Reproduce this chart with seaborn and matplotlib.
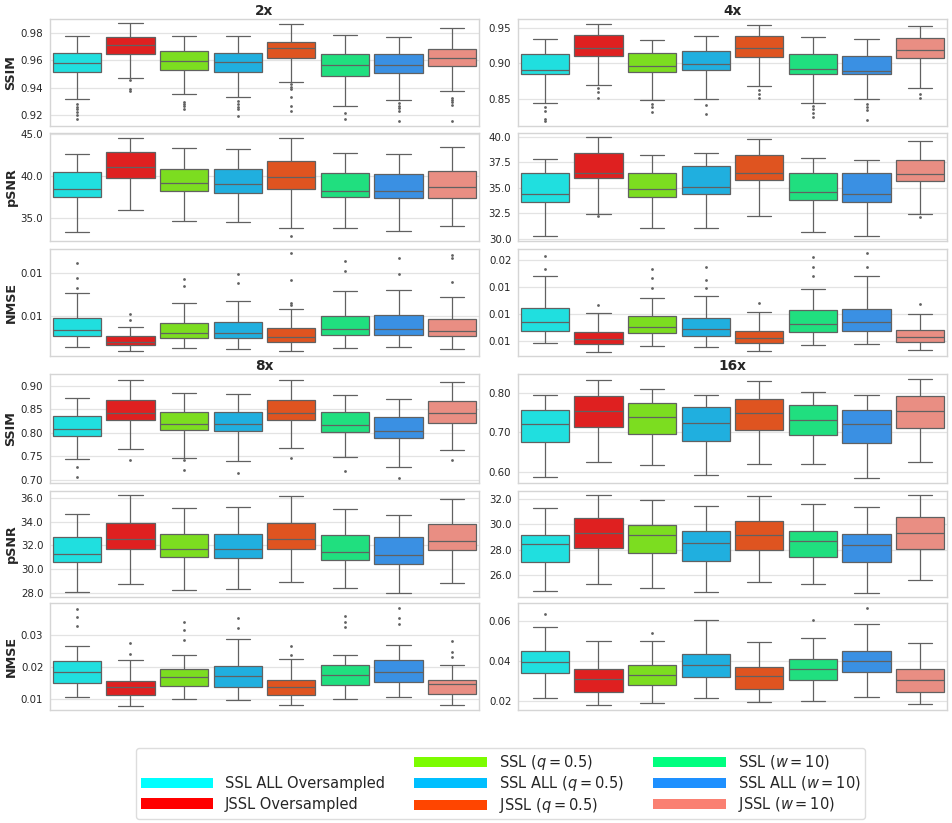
import numpy as np
import pandas as pd
import matplotlib
matplotlib.use("Agg")
import matplotlib.pyplot as plt
from matplotlib.patches import Patch, Rectangle
from matplotlib.legend_handler import HandlerPatch
from matplotlib.ticker import FormatStrFormatter
import seaborn as sns

# ---------------- data ----------------
methods = ["SSL ALL Oversampled", "JSSL Oversampled",
           r"SSL ($q = 0.5$)", r"SSL ALL ($q = 0.5$)", r"JSSL ($q = 0.5$)",
           r"SSL ($w = 10$)", r"SSL ALL ($w = 10$)", r"JSSL ($w = 10$)"]
colors = ["cyan", "red", "lawngreen", "deepskyblue", "orangered",
          "springgreen", "dodgerblue", "salmon"]
factors = ["2x", "4x", "8x", "16x"]
metrics = ["SSIM", "pSNR", "NMSE"]

# five-number summaries per method: (whisker low, Q1, median, Q3, whisker high)
ssim_2x = [(0.9320, 0.9515, 0.9578, 0.9654, 0.9776), (0.9473, 0.9649, 0.9710, 0.9768, 0.9871),
           (0.9351, 0.9527, 0.9595, 0.9666, 0.9776), (0.9329, 0.9515, 0.9585, 0.9654, 0.9776),
           (0.9439, 0.9615, 0.9688, 0.9737, 0.9868), (0.9266, 0.9485, 0.9568, 0.9646, 0.9788),
           (0.9307, 0.9505, 0.9563, 0.9644, 0.9773), (0.9377, 0.9561, 0.9615, 0.9685, 0.9839)]
ssim_2x_out = [[0.9278, 0.9261, 0.9242, 0.9220, 0.9200, 0.9171], [0.9456, 0.9388, 0.9376],
               [0.9298, 0.9281, 0.9266, 0.9246], [0.9300, 0.9281, 0.9261, 0.9242, 0.9195],
               [0.9427, 0.9402, 0.9388, 0.9334, 0.9268, 0.9232], [0.9217, 0.9168],
               [0.9285, 0.9268, 0.9251, 0.9232, 0.9159], [0.9327, 0.9310, 0.9295, 0.9271, 0.9154]]

psnr_2x = [(33.28, 37.44, 38.40, 40.48, 42.68), (35.96, 39.80, 41.04, 42.92, 44.52),
           (34.56, 38.16, 39.12, 40.88, 43.32), (34.48, 38.00, 39.00, 40.84, 43.20),
           (33.72, 38.44, 39.84, 41.80, 44.52), (33.72, 37.44, 38.24, 40.40, 42.80),
           (33.36, 37.32, 38.24, 40.28, 42.60), (33.96, 37.32, 38.72, 40.64, 43.52)]
psnr_2x_out = [[], [], [], [], [32.76], [], [], []]

nmse_2x = [(0.004642, 0.004769, 0.004838, 0.004981, 0.005262),
           (0.004596, 0.004662, 0.004704, 0.004773, 0.004877),
           (0.004627, 0.004742, 0.004800, 0.004923, 0.005150),
           (0.004619, 0.004746, 0.004804, 0.004931, 0.005177),
           (0.004592, 0.004700, 0.004762, 0.004858, 0.005085),
           (0.004635, 0.004777, 0.004846, 0.004996, 0.005292),
           (0.004642, 0.004781, 0.004854, 0.005008, 0.005296),
           (0.004619, 0.004769, 0.004823, 0.004965, 0.005219)]
nmse_2x_out = [[0.005320, 0.005435, 0.005615], [0.004950, 0.005023], [0.005350, 0.005431],
               [0.005385, 0.005485], [0.005123, 0.005154, 0.005412, 0.005723],
               [0.005523, 0.005638], [0.005481, 0.005665], [0.005396, 0.005665, 0.005700]]

ssim_4x = [(0.8434, 0.8844, 0.8910, 0.9132, 0.9344), (0.8698, 0.9104, 0.9222, 0.9401, 0.9561),
           (0.8486, 0.8873, 0.8967, 0.9146, 0.9330), (0.8490, 0.8901, 0.8991, 0.9179, 0.9396),
           (0.8675, 0.9094, 0.9222, 0.9387, 0.9547), (0.8443, 0.8854, 0.8925, 0.9137, 0.9373),
           (0.8500, 0.8844, 0.8896, 0.9109, 0.9344), (0.8646, 0.9071, 0.9193, 0.9363, 0.9533)]
ssim_4x_out = [[0.8382, 0.8321, 0.8212, 0.8179], [0.8646, 0.8590, 0.8509],
               [0.8429, 0.8373, 0.8311], [0.8401, 0.8274], [0.8627, 0.8571, 0.8505],
               [0.8392, 0.8344, 0.8288, 0.8241], [0.8420, 0.8382, 0.8335, 0.8193],
               [0.8566, 0.8509]]

psnr_4x = [(30.26, 33.66, 34.42, 36.47, 37.79), (32.44, 36.01, 36.50, 38.42, 40.00),
           (31.12, 34.13, 34.92, 36.47, 38.18), (31.06, 34.39, 35.08, 37.10, 38.38),
           (32.21, 35.78, 36.50, 38.25, 39.83), (30.69, 33.83, 34.62, 36.50, 37.95),
           (30.33, 33.66, 34.42, 36.44, 37.69), (32.47, 35.64, 36.40, 37.76, 39.57)]
psnr_4x_out = [[], [32.21], [], [], [], [], [], [32.18]]

nmse_4x = [(0.00980, 0.010725, 0.01135, 0.012425, 0.014825),
           (0.009175, 0.00975, 0.0101, 0.010675, 0.01204),
           (0.009625, 0.01055, 0.0110, 0.0118, 0.01315),
           (0.0095, 0.010375, 0.010875, 0.011675, 0.013325),
           (0.0092, 0.0098, 0.010175, 0.01075, 0.0121),
           (0.009675, 0.010625, 0.011225, 0.01225, 0.013825),
           (0.00975, 0.010725, 0.01135, 0.012375, 0.01483),
           (0.009275, 0.009875, 0.01025, 0.0108, 0.011975)]
nmse_4x_out = [[0.0153, 0.0163], [0.012675], [0.013925, 0.014675, 0.0153],
               [0.013925, 0.01455, 0.015475], [0.012775], [0.01485, 0.0155, 0.01625],
               [0.0155, 0.01655], [0.01275]]

ssim_8x = [(0.7438, 0.7940, 0.8074, 0.8350, 0.8731), (0.7664, 0.8272, 0.8421, 0.8703, 0.9127),
           (0.7465, 0.8053, 0.8180, 0.8449, 0.8852), (0.7410, 0.8032, 0.8180, 0.8449, 0.8823),
           (0.7671, 0.8265, 0.8421, 0.8689, 0.9113), (0.7481, 0.8011, 0.8159, 0.8435, 0.8795),
           (0.7276, 0.7898, 0.8046, 0.8329, 0.8710), (0.7629, 0.8201, 0.8413, 0.8682, 0.9071)]
ssim_8x_out = [[0.7269, 0.7057], [0.7424], [0.7424, 0.7212], [0.7141], [0.7466], [0.7191],
               [0.7050], [0.7431]]

psnr_8x = [(28.06, 30.59, 31.30, 32.73, 34.68), (28.70, 31.72, 32.56, 33.92, 36.28),
           (28.20, 31.01, 31.72, 32.93, 35.18), (28.28, 30.93, 31.72, 32.93, 35.24),
           (28.87, 31.66, 32.54, 33.86, 36.14), (28.39, 30.79, 31.41, 32.85, 35.04),
           (28.00, 30.45, 31.15, 32.68, 34.56), (28.85, 31.58, 32.37, 33.83, 35.89)]
psnr_8x_out = [[], [], [], [], [], [], [], []]

nmse_8x = [(0.01082, 0.01515, 0.01856, 0.02186, 0.0266),
           (0.00804, 0.01134, 0.01392, 0.01567, 0.02206),
           (0.0100, 0.01423, 0.0168, 0.01948, 0.02371),
           (0.00979, 0.01392, 0.01711, 0.02021, 0.02876),
           (0.00825, 0.01134, 0.01392, 0.0159, 0.0225),
           (0.0100, 0.01433, 0.01742, 0.02052, 0.02371),
           (0.01082, 0.01536, 0.01856, 0.02206, 0.02691),
           (0.00814, 0.01165, 0.01464, 0.01598, 0.02052)]
nmse_8x_out = [[0.03268, 0.03546, 0.03804], [0.02392, 0.02732], [0.02835, 0.03155, 0.03381],
               [0.03216, 0.03515], [0.02361, 0.0265], [0.03227, 0.03402, 0.03588],
               [0.0332, 0.03515, 0.03835], [0.02299, 0.02454, 0.02814]]

ssim_16x = [(0.5864, 0.6749, 0.7209, 0.7583, 0.7949), (0.6238, 0.7140, 0.7557, 0.7940, 0.8340),
            (0.6162, 0.6970, 0.7404, 0.7753, 0.8111), (0.5915, 0.6774, 0.7243, 0.7643, 0.7949),
            (0.6204, 0.7064, 0.7498, 0.7864, 0.8315), (0.6196, 0.6945, 0.7311, 0.7711, 0.8034),
            (0.5847, 0.6732, 0.7209, 0.7583, 0.7949), (0.6255, 0.7106, 0.7557, 0.7923, 0.8357)]
ssim_16x_out = [[], [], [], [], [], [], [], []]

psnr_16x = [(24.74, 27.07, 28.44, 29.14, 31.32), (25.29, 28.17, 29.35, 30.48, 32.29),
            (25.00, 27.78, 29.14, 29.93, 31.90), (24.66, 27.15, 28.51, 29.51, 31.48),
            (25.45, 27.99, 29.14, 30.30, 32.21), (25.34, 27.47, 28.72, 29.51, 31.63),
            (24.63, 27.02, 28.36, 29.25, 31.37), (25.63, 28.09, 29.30, 30.56, 32.34)]
psnr_16x_out = [[], [], [], [], [], [], [], []]

nmse_16x = [(0.02166, 0.03411, 0.03959, 0.04473, 0.05701),
            (0.01784, 0.02465, 0.03079, 0.03577, 0.04988),
            (0.01917, 0.0278, 0.03295, 0.03809, 0.05004),
            (0.0215, 0.03195, 0.03793, 0.04324, 0.0601),
            (0.01934, 0.02581, 0.03245, 0.03676, 0.04921),
            (0.01983, 0.03062, 0.03593, 0.04108, 0.05154),
            (0.02199, 0.03427, 0.04008, 0.04506, 0.05851),
            (0.01834, 0.02448, 0.03062, 0.03577, 0.04871)]
nmse_16x_out = [[0.06349], [], [0.0538], [], [], [0.06017], [0.06647], []]

# y tick values and axis ranges per panel
yticks_2x = [[0.92, 0.94, 0.96, 0.98], [35, 40, 45], [0.0050, 0.0055]]
yticks_4x = [[0.85, 0.90, 0.95], [30, 32.5, 35, 37.5, 40], [0.010, 0.012, 0.014, 0.016]]
yticks_8x = [[0.70, 0.75, 0.80, 0.85, 0.90], [28, 30, 32, 34, 36], [0.01, 0.02, 0.03]]
yticks_16x = [[0.60, 0.70, 0.80], [26, 28, 30, 32], [0.02, 0.04, 0.06]]
ylims_2x = [(0.91195, 0.99024), (32.24, 45.2), (0.004538, 0.005777)]
ylims_4x = [(0.8109, 0.9632), (29.83, 40.40), (0.00885, 0.01685)]
ylims_8x = [(0.6943, 0.9240), (27.61, 36.62), (0.0067, 0.03969)]
ylims_16x = [(0.5719, 0.8485), (24.27, 32.66), (0.01552, 0.06863)]
tick_formats = ["%.2f", "%.1f", "%.2f"]


def expand(stats, outliers):
    """Build a sample whose quartiles/whiskers equal the given summary."""
    lo, q1, med, q3, hi = stats
    outs = sorted(outliers)
    lows = [o for o in outs if o < lo]
    highs = [o for o in outs if o > hi]
    k = max(len(lows), len(highs)) + 1
    return (lows + [lo] + [q1] * (k - len(lows)) + [med] * k + [q3] * k
            + [q3] * (k - len(highs) - 1) + [hi] + highs)


panels = {
    "2x": ([ssim_2x, psnr_2x, nmse_2x], [ssim_2x_out, psnr_2x_out, nmse_2x_out], yticks_2x, ylims_2x),
    "4x": ([ssim_4x, psnr_4x, nmse_4x], [ssim_4x_out, psnr_4x_out, nmse_4x_out], yticks_4x, ylims_4x),
    "8x": ([ssim_8x, psnr_8x, nmse_8x], [ssim_8x_out, psnr_8x_out, nmse_8x_out], yticks_8x, ylims_8x),
    "16x": ([ssim_16x, psnr_16x, nmse_16x], [ssim_16x_out, psnr_16x_out, nmse_16x_out], yticks_16x, ylims_16x),
}


class HandlerSwatch(HandlerPatch):
    """Colour swatch sitting on the text baseline, independent of row height."""
    def create_artists(self, legend, orig_handle, xdescent, ydescent,
                       width, height, fontsize, trans):
        rect = Rectangle((-xdescent, 0.0), width, 0.7 * fontsize,
                         facecolor=orig_handle.get_facecolor(),
                         edgecolor="none", transform=trans)
        return [rect]


# ---------------- layout ----------------
sns.set_theme(style="whitegrid")
plt.rcParams["font.family"] = ["DejaVu Sans"]

W, H = 952, 823
fig = plt.figure(figsize=(W / 100, H / 100), dpi=100)

col_px = [(50, 479), (518, 947)]
row_px = [(19, 126), (132.7, 240.7), (248.7, 356),
          (374.3, 482.7), (490.7, 597.3), (603.3, 710)]
placement = {"2x": (0, 0), "4x": (1, 0), "8x": (0, 3), "16x": (1, 3)}

for fac in factors:
    stats_list, outs_list, ticks_list, lims_list = panels[fac]
    col, row0 = placement[fac]
    for mi, metric in enumerate(metrics):
        x0, x1 = col_px[col]
        y0, y1 = row_px[row0 + mi]
        ax = fig.add_axes([x0 / W, 1 - y1 / H, (x1 - x0) / W, (y1 - y0) / H])
        recs_m, recs_v = [], []
        for meth, st, ou in zip(methods, stats_list[mi], outs_list[mi]):
            vals = expand(st, ou)
            recs_m += [meth] * len(vals)
            recs_v += vals
        df = pd.DataFrame({"Method": recs_m, "value": recs_v})
        sns.boxplot(data=df, x="Method", y="value", hue="Method",
                    order=methods, hue_order=methods, palette=colors,
                    width=0.9, fliersize=1.0, linewidth=0.9, linecolor="0.38",
                    legend=False, ax=ax)
        ax.set_xlabel("")
        ax.set_xticks([])
        ax.set_ylim(*lims_list[mi])
        ax.set_yticks(ticks_list[mi])
        ax.yaxis.set_major_formatter(FormatStrFormatter(tick_formats[mi]))
        ax.tick_params(axis="y", labelsize=7.4, length=0, pad=4.8)
        for sp in ax.spines.values():
            sp.set_color("#d5d5d5")
            sp.set_linewidth(1.0)
        ax.grid(axis="y", color="#e3e3e3", linewidth=0.9)
        if col == 0:
            ax.set_ylabel(metric, fontsize=9.2, fontweight="bold")
            ax.yaxis.set_label_coords(-0.0755, 0.5)
        else:
            ax.set_ylabel("")
        if mi == 0:
            ax.set_title(fac, fontsize=9.8, fontweight="bold", pad=2.8)

handles = [Patch(facecolor="none")] + [Patch(facecolor=c) for c in colors]
labels = [" "] + methods
fig.legend(handles, labels, loc="center", bbox_to_anchor=(500.5 / W, 1 - 783.8 / H),
           ncol=3, fontsize=10.5, handlelength=5.0, handleheight=1.57,
           handletextpad=0.8, columnspacing=2.0, labelspacing=0.17,
           borderpad=0.3, frameon=True, edgecolor="#d5d5d5",
           handler_map={Patch: HandlerSwatch()})

fig.savefig("out.png", dpi=100)
